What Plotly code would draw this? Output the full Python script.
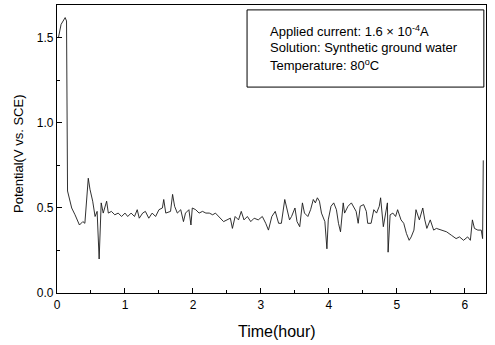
import plotly.graph_objects as go

# Potential transient under galvanostatic polarisation
time_h = [
    0.02, 0.06, 0.12, 0.14, 0.155, 0.17, 0.216, 0.265, 0.33, 0.38, 0.41, 0.46, 0.485,
    0.525, 0.56, 0.59, 0.62, 0.65, 0.68, 0.73, 0.755, 0.80, 0.85, 0.90, 0.95,
    1.00, 1.04, 1.09, 1.14, 1.18, 1.21, 1.26, 1.30, 1.35, 1.40, 1.45, 1.50, 1.55,
    1.57, 1.60, 1.67, 1.70, 1.73, 1.77, 1.82, 1.86, 1.89, 1.94, 1.97, 1.99, 2.04,
    2.09, 2.14, 2.19, 2.24, 2.29, 2.33, 2.45, 2.50, 2.55, 2.58, 2.62, 2.67, 2.71,
    2.75, 2.80, 2.85, 2.90, 2.96, 3.02, 3.07, 3.11, 3.16, 3.21, 3.26, 3.30, 3.35,
    3.38, 3.42, 3.45, 3.50, 3.53, 3.57, 3.61, 3.64, 3.69, 3.73, 3.77, 3.80, 3.83,
    3.86, 3.89, 3.94, 3.97, 3.99, 4.03, 4.07, 4.11, 4.14, 4.17, 4.21, 4.23, 4.28,
    4.33, 4.37, 4.40, 4.43, 4.46, 4.51, 4.55, 4.57, 4.62, 4.66, 4.70, 4.74, 4.76,
    4.80, 4.84, 4.86, 4.87, 4.90, 4.94, 4.98, 5.01, 5.06, 5.10, 5.14, 5.18, 5.21,
    5.25, 5.28, 5.33, 5.38, 5.41, 5.44, 5.49, 5.54, 5.58, 5.66, 5.73, 5.80, 5.87,
    5.92, 5.98, 6.04, 6.08, 6.11, 6.14, 6.19, 6.24, 6.26, 6.27,
]
potential_v = [
    1.50, 1.58, 1.62, 1.60, 0.60, 0.57, 0.50, 0.46, 0.40, 0.42, 0.41, 0.675, 0.61,
    0.54, 0.45, 0.48, 0.20, 0.53, 0.47, 0.54, 0.47, 0.48, 0.46, 0.47, 0.45,
    0.47, 0.45, 0.47, 0.45, 0.49, 0.44, 0.47, 0.48, 0.44, 0.47, 0.45, 0.49, 0.50,
    0.55, 0.47, 0.48, 0.58, 0.51, 0.47, 0.49, 0.42, 0.47, 0.49, 0.40, 0.50, 0.49,
    0.47, 0.48, 0.47, 0.47, 0.46, 0.47, 0.42, 0.43, 0.44, 0.38, 0.45, 0.43, 0.48,
    0.43, 0.45, 0.42, 0.44, 0.43, 0.45, 0.41, 0.37, 0.45, 0.48, 0.41, 0.41, 0.55,
    0.49, 0.43, 0.45, 0.50, 0.42, 0.39, 0.53, 0.47, 0.45, 0.49, 0.55, 0.53, 0.56,
    0.54, 0.47, 0.42, 0.26, 0.43, 0.51, 0.53, 0.49, 0.41, 0.36, 0.53, 0.47, 0.51,
    0.53, 0.50, 0.48, 0.41, 0.51, 0.52, 0.48, 0.41, 0.41, 0.49, 0.47, 0.51, 0.56,
    0.39, 0.47, 0.53, 0.24, 0.46, 0.47, 0.45, 0.49, 0.43, 0.41, 0.35, 0.31, 0.33,
    0.37, 0.49, 0.43, 0.50, 0.43, 0.38, 0.43, 0.37, 0.38, 0.37, 0.36, 0.34, 0.32,
    0.33, 0.31, 0.33, 0.31, 0.43, 0.38, 0.37, 0.37, 0.32, 0.78,
]

x_ticks = [0, 1, 2, 3, 4, 5, 6]
y_ticks = [0.0, 0.5, 1.0, 1.5]

info_lines = [
    "Applied current: 1.6 \u00d7 10<sup>-4</sup>A",
    "Solution: Synthetic ground water",
    "Temperature: 80<sup>o</sup>C",
]

FONT = "Arial, Liberation Sans, Helvetica, sans-serif"

fig = go.Figure()
fig.add_trace(go.Scatter(
    x=time_h, y=potential_v, mode="lines",
    line=dict(color="#1a1a1a", width=0.9),
    showlegend=False, hoverinfo="skip",
))

axis_common = dict(
    showline=True, linecolor="black", linewidth=1.2, mirror=True,
    showgrid=False, zeroline=False,
    ticks="inside", ticklen=5, tickwidth=1, tickcolor="black",
    tickfont=dict(family=FONT, size=12, color="black"),
)

fig.update_xaxes(
    range=[0, 6.31], tickvals=x_ticks, ticktext=[str(t) for t in x_ticks],
    minor=dict(ticks="inside", ticklen=3, dtick=0.5, tick0=0, tickcolor="black"),
    **axis_common,
)
fig.update_yaxes(
    range=[0, 1.694], tickvals=y_ticks, ticktext=[f"{t:.1f}" for t in y_ticks],
    minor=dict(ticks="inside", ticklen=3, dtick=0.25, tick0=0, tickcolor="black"),
    **axis_common,
)

# Axis titles
fig.add_annotation(
    text="Time(hour)", xref="paper", yref="paper", x=0.513, y=-0.135,
    xanchor="center", yanchor="middle", showarrow=False,
    font=dict(family=FONT, size=16, color="black"),
)
fig.add_annotation(
    text="Potential(V vs. SCE)", xref="paper", yref="paper", x=-0.091, y=0.486,
    xanchor="center", yanchor="middle", showarrow=False, textangle=-90,
    font=dict(family=FONT, size=13, color="black"),
)

# Test-condition box
fig.add_shape(
    type="rect", xref="paper", yref="paper",
    x0=0.443, x1=0.995, y0=0.715, y1=0.983,
    line=dict(color="black", width=1), fillcolor="white", layer="above",
)
for i, line_text in enumerate(info_lines):
    fig.add_annotation(
        text=line_text, xref="paper", yref="paper",
        x=0.492, y=0.910 - i * 0.059, xanchor="left", yanchor="middle",
        showarrow=False, font=dict(family=FONT, size=13, color="black"),
    )

fig.update_layout(
    width=495, height=345,
    margin=dict(l=57, r=9, t=5, b=52),
    paper_bgcolor="white", plot_bgcolor="white",
)

fig.write_html("out.html")
